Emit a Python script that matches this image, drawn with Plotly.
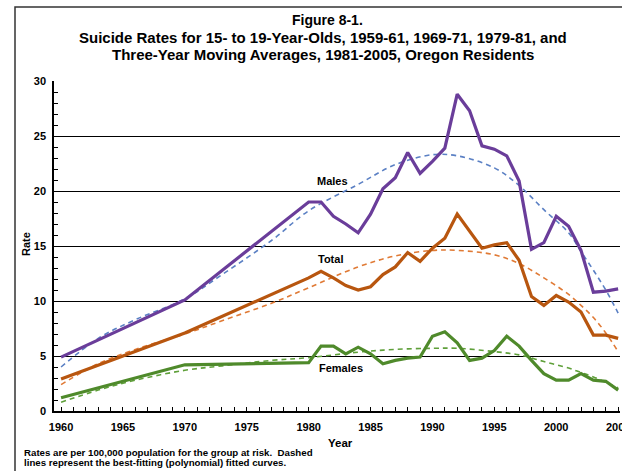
import plotly.graph_objects as go

# ---- data ----
years = [1960, 1970, 1980, 1981, 1982, 1983, 1984, 1985, 1986, 1987, 1988, 1989,
         1990, 1991, 1992, 1993, 1994, 1995, 1996, 1997, 1998, 1999, 2000, 2001,
         2002, 2003, 2004, 2005]
males = [4.9, 10.1, 19.0, 19.0, 17.7, 17.0, 16.2, 17.9, 20.2, 21.2, 23.5, 21.6,
         22.7, 23.9, 28.8, 27.3, 24.1, 23.8, 23.2, 20.9, 14.7, 15.3, 17.7, 16.8,
         14.6, 10.8, 10.9, 11.1]
total = [2.9, 7.1, 12.1, 12.7, 12.1, 11.4, 11.0, 11.3, 12.4, 13.1, 14.4, 13.6,
         14.8, 15.7, 17.9, 16.4, 14.8, 15.1, 15.3, 13.7, 10.4, 9.6, 10.5, 9.9,
         9.0, 6.9, 6.9, 6.6]
females = [1.2, 4.2, 4.4, 5.9, 5.9, 5.2, 5.8, 5.2, 4.3, 4.6, 4.8, 4.9,
           6.8, 7.2, 6.2, 4.6, 4.8, 5.5, 6.8, 5.9, 4.6, 3.4, 2.8, 2.8,
           3.4, 2.8, 2.7, 1.9]

fit_years = [1960, 1963, 1966, 1970, 1973, 1977, 1980, 1984, 1987, 1990, 1992,
             1995, 1997, 1999, 2001, 2002, 2003, 2004, 2005]
males_fit = [4.0, 6.6, 8.3, 10.2, 12.4, 15.5, 18.2, 20.6, 22.4, 23.3, 23.2,
             22.1, 20.5, 18.3, 16.2, 14.5, 12.8, 11.0, 8.9]
total_fit = [2.4, 4.3, 5.6, 7.0, 8.2, 9.8, 11.2, 13.1, 14.1, 14.6, 14.6,
             14.2, 13.4, 12.1, 10.6, 9.6, 8.5, 7.1, 5.4]
females_fit = [0.8, 1.9, 2.8, 3.7, 4.1, 4.6, 4.85, 5.35, 5.6, 5.7, 5.7,
               5.4, 5.1, 4.5, 3.9, 3.5, 3.1, 2.6, 2.1]

x_ticks = [1960, 1965, 1970, 1975, 1980, 1985, 1990, 1995, 2000, 2005]
y_ticks = [0, 5, 10, 15, 20, 25, 30]

title_lines = ["Figure 8-1.",
               "Suicide Rates for 15- to 19-Year-Olds, 1959-61, 1969-71, 1979-81, and",
               "Three-Year Moving Averages, 1981-2005, Oregon Residents"]
footnote_lines = ["Rates are per 100,000 population for the group at risk.  Dashed",
                  "lines represent the best-fitting (polynomial) fitted curves."]

FONT = "Liberation Sans, Arial, sans-serif"
C_MALE, C_TOTAL, C_FEM = "#6a3d9a", "#b8560f", "#4f8a2b"
C_MALE_FIT, C_TOTAL_FIT, C_FEM_FIT = "#5b80c4", "#e07a35", "#5fa03a"

W, H = 622, 471
L, R, T, B = 54, 2, 81, 60
PW, PH = W - L - R, H - T - B

fig = go.Figure()
for fy, col in [(males_fit, C_MALE_FIT), (total_fit, C_TOTAL_FIT), (females_fit, C_FEM_FIT)]:
    fig.add_trace(go.Scatter(x=fit_years, y=fy, mode="lines",
                             line=dict(color=col, width=1.6, dash="5px,4px", shape="spline", smoothing=1.0),
                             hoverinfo="skip"))
for sy, col in [(males, C_MALE), (total, C_TOTAL), (females, C_FEM)]:
    fig.add_trace(go.Scatter(x=years, y=sy, mode="lines",
                             line=dict(color=col, width=3.2), hoverinfo="skip"))

def px_to_paper(px, py):
    return (px - L) / PW, (H - B - py) / PH

annotations = []
for txt, cx, py, size in zip(title_lines, [327, 323, 323], [20.5, 37.5, 54.5], [14, 15, 15]):
    xp, yp = px_to_paper(cx, py)
    annotations.append(dict(text="<b>%s</b>" % txt, x=xp, y=yp, xref="paper", yref="paper",
                            showarrow=False, xanchor="center", yanchor="middle",
                            font=dict(family=FONT, size=size, color="black")))
for txt, py in zip(footnote_lines, [452, 463]):
    xp, yp = px_to_paper(22, py)
    annotations.append(dict(text="<b>%s</b>" % txt, x=xp, y=yp, xref="paper", yref="paper",
                            showarrow=False, xanchor="left", yanchor="middle",
                            font=dict(family=FONT, size=9.7, color="black")))
for txt, cx, cy in [("Males", 332, 181), ("Total", 330, 259), ("Females", 341, 368)]:
    xp, yp = px_to_paper(cx, cy)
    annotations.append(dict(text="<b>%s</b>" % txt, x=xp, y=yp, xref="paper", yref="paper",
                            showarrow=False, xanchor="center", yanchor="middle",
                            font=dict(family=FONT, size=11, color="black")))
xp, yp = px_to_paper(340, 443)
annotations.append(dict(text="<b>Year</b>", x=xp, y=yp, xref="paper", yref="paper",
                        showarrow=False, xanchor="center", yanchor="middle",
                        font=dict(family=FONT, size=11.5, color="black")))
xp, yp = px_to_paper(26, 244)
annotations.append(dict(text="<b>Rate</b>", x=xp, y=yp, xref="paper", yref="paper",
                        showarrow=False, xanchor="center", yanchor="middle", textangle=-90,
                        font=dict(family=FONT, size=11, color="black")))

x0, y0 = px_to_paper(15, 480)
x1, y1 = px_to_paper(640, 7)
shapes = [dict(type="rect", xref="paper", yref="paper", x0=x0, y0=y0, x1=x1, y1=y1,
               line=dict(color="#333333", width=1.5), fillcolor="rgba(0,0,0,0)", layer="below")]

fig.update_layout(
    width=W, height=H, margin=dict(l=L, r=R, t=T, b=B, autoexpand=False),
    paper_bgcolor="white", plot_bgcolor="white", showlegend=False,
    font=dict(family=FONT, color="black"),
    annotations=annotations, shapes=shapes,
    xaxis=dict(range=[1959.43, 2005.15], tickmode="array", tickvals=x_ticks,
               ticktext=["<b>%d</b>" % v for v in x_ticks],
               ticks="inside", ticklen=4, tickcolor="black", tickwidth=1,
               minor=dict(dtick=1, ticks="inside", ticklen=4, tickcolor="black", tickwidth=1, showgrid=False),
               showline=True, linecolor="black", linewidth=1.5, showgrid=False, zeroline=False,
               tickfont=dict(family=FONT, size=11, color="black"), ticklabelstandoff=5,
               ticklabeloverflow="allow"),
    yaxis=dict(range=[0, 30], tickmode="array", tickvals=y_ticks,
               ticktext=["<b>%d</b>" % v for v in y_ticks],
               ticks="inside", ticklen=4, tickcolor="black", tickwidth=1,
               minor=dict(dtick=1, ticks="inside", ticklen=4, tickcolor="black", tickwidth=1, showgrid=False),
               showline=True, linecolor="black", linewidth=1.5,
               showgrid=True, gridcolor="black", gridwidth=1, zeroline=False,
               tickfont=dict(family=FONT, size=11, color="black"), ticklabelstandoff=4),
)

fig.write_html("out.html", config={"displayModeBar": False},
               post_script="document.body.style.margin='0';document.body.style.overflow='hidden';")
